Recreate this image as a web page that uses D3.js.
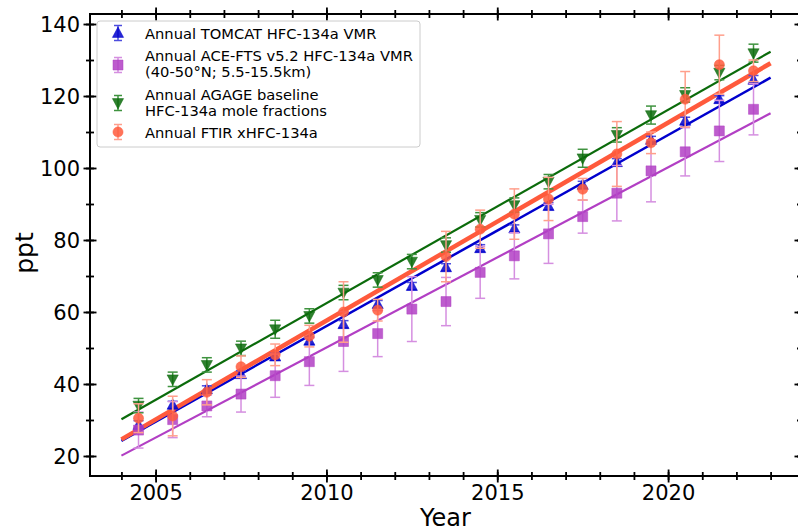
<!DOCTYPE html>
<html>
<head>
<meta charset="utf-8">
<script src="https://cdn.jsdelivr.net/npm/d3@7"></script>
<style>
  body { margin: 0; background: #fff; }
  svg { display: block; font-family: "DejaVu Sans", sans-serif; }
</style>
</head>
<body>
<div id="chart"></div>
<script>
// annual means
const years = [2004.5, 2005.5, 2006.5, 2007.5, 2008.5, 2009.5, 2010.5, 2011.5, 2012.5, 2013.5,
               2014.5, 2015.5, 2016.5, 2017.5, 2018.5, 2019.5, 2020.5, 2021.5, 2022.5];
const tomcat = [28.6, 34.2, 38.5, 42.7, 47.6, 52.0, 56.6, 62.2, 67.2, 72.4,
                77.7, 83.2, 89.4, 95.3, 101.6, 107.8, 113.1, 119.1, 124.5];
const tomcatErr = [1.2, 1.0, 1.0, 1.0, 1.0, 1.0, 1.0, 1.0, 1.0, 1.0,
                   1.0, 1.0, 1.0, 1.0, 1.0, 1.0, 1.0, 1.0, 1.2];
const ace = [27.2, 30.1, 33.9, 37.2, 42.3, 46.2, 51.8, 54.0, 60.8, 62.9,
             71.0, 75.6, 81.7, 86.5, 93.0, 99.2, 104.5, 110.3, 116.3];
const aceErr = [5.0, 5.0, 3.0, 5.0, 6.0, 6.6, 8.3, 6.4, 9.0, 6.7,
                7.2, 6.4, 8.2, 4.6, 7.7, 8.6, 6.7, 8.5, 7.1];
const agage = [34.0, 41.3, 45.3, 49.9, 55.2, 58.9, 65.4, 68.9, 74.0, 78.6,
               85.6, 89.7, 96.2, 102.7, 109.2, 114.7, 120.3, 126.5, 131.9];
const agageErr = [2.0, 2.0, 2.0, 2.0, 2.5, 2.0, 2.0, 2.0, 2.0, 2.0,
                  2.0, 2.0, 2.0, 2.5, 2.0, 2.5, 2.0, 2.0, 2.5];
const ftirYears = [2004.5, 2005.5, 2006.5, 2007.5, 2008.5, 2009.5, 2010.5, 2011.5, 2013.5,
                   2014.5, 2015.5, 2016.5, 2017.5, 2018.5, 2019.5, 2020.5, 2021.5, 2022.5];
const ftir = [30.5, 31.1, 37.7, 44.8, 48.1, 53.3, 60.0, 60.5, 75.4,
              83.0, 87.2, 91.4, 94.1, 103.9, 107.0, 119.1, 128.7, 127.0];
const ftirErr = [4.0, 5.5, 3.5, 3.0, 3.0, 3.0, 8.4, 3.0, 7.0,
                 5.3, 7.0, 6.0, 3.0, 9.0, 3.0, 7.7, 8.2, 3.0];

// linear fits, value at 2004 and 2023
const fitYears = [2004, 2023];
const tomcatFit = [24.2, 125.1];
const aceFit = [20.1, 115.2];
const agageFit = [30.2, 132.3];
const ftirFit = [24.6, 129.1];

const xMajor = [2005, 2010, 2015, 2020];
const xMinor = d3.range(2004, 2024);
const yMajor = [20, 40, 60, 80, 100, 120, 140];
const yMinor = d3.range(20, 141, 10);

const legendLabels = [
  ["Annual TOMCAT HFC-134a VMR"],
  ["Annual ACE-FTS v5.2 HFC-134a VMR", "(40-50°N; 5.5-15.5km)"],
  ["Annual AGAGE baseline", "HFC-134a mole fractions"],
  ["Annual FTIR xHFC-134a"]
];

const width = 798, height = 532;
const plotL = 90, plotR = 801, plotT = 14, plotB = 476;

const x = d3.scaleLinear().domain([2003.08, 2023.89]).range([plotL, plotR]);
const y = d3.scaleLinear().domain([14.44, 142.78]).range([plotB, plotT]);

const svg = d3.select("#chart").append("svg")
  .attr("width", width).attr("height", height);

// series styles
const series = [
  {name: "tomcat", xs: years, vals: tomcat, err: tomcatErr, fit: tomcatFit,
   color: "#0000cd", errColor: "#4d4dde", lw: 2.5, marker: "triangle"},
  {name: "ace", xs: years, vals: ace, err: aceErr, fit: aceFit,
   color: "#b23fc4", errColor: "#d58fe0", lw: 2.2, marker: "square"},
  {name: "agage", xs: years, vals: agage, err: agageErr, fit: agageFit,
   color: "#0b6b0b", errColor: "#3f933f", lw: 2.2, marker: "triangleDown"},
  {name: "ftir", xs: ftirYears, vals: ftir, err: ftirErr, fit: ftirFit,
   color: "#ff5a3c", errColor: "#ff9f8c", lw: 4.5, marker: "circle"}
];

function markerPath(type) {
  if (type === "triangle") return "M0,-6L5.6,4.4L-5.6,4.4Z";
  if (type === "triangleDown") return "M0,6L5.6,-4.4L-5.6,-4.4Z";
  if (type === "square") return "M-5,-5H5V5H-5Z";
  return d3.symbol().type(d3.symbolCircle).size(80)();
}

function drawErrBar(g, cx, lo, hi, color, cap) {
  g.append("line").attr("x1", cx).attr("x2", cx).attr("y1", lo).attr("y2", hi)
    .attr("stroke", color).attr("stroke-width", 1.5);
  [lo, hi].forEach(v => {
    g.append("line").attr("x1", cx - cap).attr("x2", cx + cap).attr("y1", v).attr("y2", v)
      .attr("stroke", color).attr("stroke-width", 1.5);
  });
}

// fit lines
const line = d3.line().x(d => x(d[0])).y(d => y(d[1]));
series.forEach(s => {
  svg.append("path")
    .datum(fitYears.map((yr, i) => [yr, s.fit[i]]))
    .attr("d", line)
    .attr("fill", "none")
    .attr("stroke", s.color)
    .attr("stroke-width", s.lw);
});

// error bars and markers
series.forEach(s => {
  const g = svg.append("g").attr("class", s.name);
  s.xs.forEach((yr, i) => {
    drawErrBar(g, x(yr), y(s.vals[i] - s.err[i]), y(s.vals[i] + s.err[i]), s.errColor, 5);
  });
  g.selectAll("path.m").data(s.xs).enter().append("path")
    .attr("class", "m")
    .attr("d", markerPath(s.marker))
    .attr("transform", (d, i) => `translate(${x(d)},${y(s.vals[i])})`)
    .attr("fill", s.color)
    .attr("fill-opacity", 0.85)
    .attr("stroke", s.color)
    .attr("stroke-opacity", 0.5)
    .attr("stroke-width", 1);
});

// axes with ticks crossing the spine
function crossTicks(g, horizontal, major) {
  const len = major ? 6.5 : 4;
  g.selectAll(".tick line")
    .attr(horizontal ? "y1" : "x1", -len)
    .attr(horizontal ? "y2" : "x2", len)
    .attr("stroke", "#000").attr("stroke-width", 1.8);
  g.select(".domain").remove();
}

const xAxisMinor = d3.axisBottom(x).tickValues(xMinor).tickFormat("");
const xAxisMajor = d3.axisBottom(x).tickValues(xMajor).tickFormat(d3.format("d"));
const yAxisMinor = d3.axisLeft(y).tickValues(yMinor).tickFormat("");
const yAxisMajor = d3.axisLeft(y).tickValues(yMajor).tickFormat(d3.format("d"));

[plotB, plotT].forEach((py, k) => {
  const gMin = svg.append("g").attr("transform", `translate(0,${py})`).call(xAxisMinor);
  crossTicks(gMin, true, false);
  const gMaj = svg.append("g").attr("transform", `translate(0,${py})`).call(xAxisMajor);
  crossTicks(gMaj, true, true);
  if (k === 0) {
    gMaj.selectAll(".tick text").attr("y", 9).attr("dy", "0.71em")
      .attr("font-size", 21).attr("font-family", "DejaVu Sans").attr("fill", "#000");
  } else {
    gMaj.selectAll(".tick text").remove();
  }
});

[plotL, plotR].forEach((px, k) => {
  const gMin = svg.append("g").attr("transform", `translate(${px},0)`).call(yAxisMinor);
  crossTicks(gMin, false, false);
  const gMaj = svg.append("g").attr("transform", `translate(${px},0)`).call(yAxisMajor);
  crossTicks(gMaj, false, true);
  if (k === 0) {
    gMaj.selectAll(".tick text").attr("x", -10).attr("dy", "0.36em")
      .attr("font-size", 21).attr("font-family", "DejaVu Sans").attr("fill", "#000");
  } else {
    gMaj.selectAll(".tick text").remove();
  }
});

// frame
svg.append("rect")
  .attr("x", plotL).attr("y", plotT)
  .attr("width", plotR - plotL).attr("height", plotB - plotT)
  .attr("fill", "none").attr("stroke", "#000").attr("stroke-width", 2);

// axis titles
svg.append("text")
  .attr("x", (plotL + plotR) / 2).attr("y", 526)
  .attr("text-anchor", "middle").attr("font-size", 24)
  .text("Year");
svg.append("text")
  .attr("transform", `translate(33,${(plotT + plotB) / 2 + 8}) rotate(-90)`)
  .attr("text-anchor", "middle").attr("font-size", 25)
  .text("ppt");

// legend
const legend = svg.append("g");
legend.append("rect")
  .attr("x", 97).attr("y", 21).attr("width", 323).attr("height", 126)
  .attr("rx", 3)
  .attr("fill", "#fff").attr("fill-opacity", 0.85)
  .attr("stroke", "#cccccc").attr("stroke-width", 1);

const legendMarkerY = [33, 65, 103, 132];
const legendTextY = [[39.3], [61, 77], [100, 116], [137.7]];
series.forEach((s, i) => {
  const cy = legendMarkerY[i];
  drawErrBar(legend, 118, cy - 7.5, cy + 7.5, s.errColor, 4);
  legend.append("path")
    .attr("d", markerPath(s.marker))
    .attr("transform", `translate(118,${cy})`)
    .attr("fill", s.color).attr("fill-opacity", 0.85)
    .attr("stroke", s.color).attr("stroke-opacity", 0.5);
  legendLabels[i].forEach((t, j) => {
    legend.append("text")
      .attr("x", 145).attr("y", legendTextY[i][j])
      .attr("font-size", 14.7)
      .text(t);
  });
});
</script>
</body>
</html>
